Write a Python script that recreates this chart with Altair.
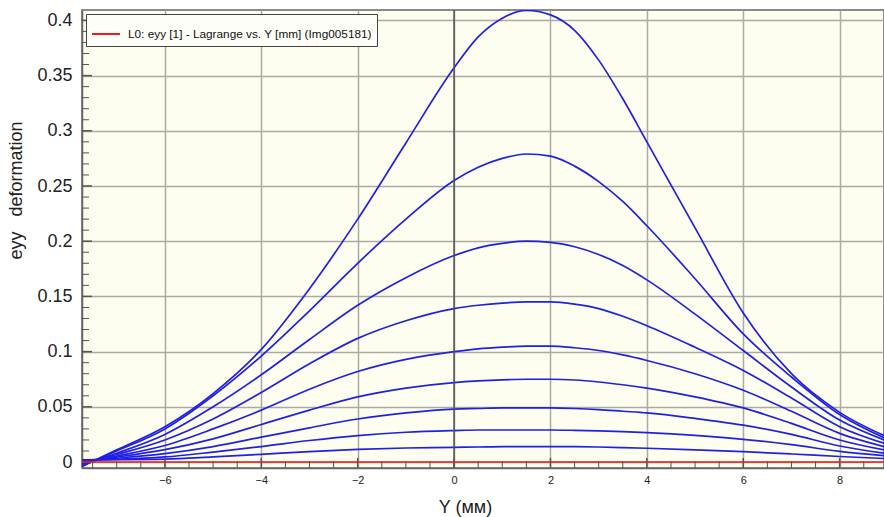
import altair as alt
import pandas as pd

# Position along the specimen (mm)
Y_MM = [-7.72, -7, -6, -5, -4, -3, -2, -1, 0, 0.5, 1, 1.5, 2, 2.5, 3, 3.5, 4, 5, 6, 7, 8, 8.92]

# eyy (Lagrange) profiles, one per loading stage
EYY_1 = [-0.004, 0.011, 0.032, 0.062, 0.102, 0.157, 0.220, 0.289, 0.357, 0.385, 0.402, 0.409, 0.405, 0.391, 0.364, 0.329, 0.290, 0.212, 0.135, 0.080, 0.045, 0.024]
EYY_2 = [-0.0035, 0.0100, 0.030, 0.060, 0.096, 0.137, 0.180, 0.220, 0.255, 0.267, 0.275, 0.279, 0.277, 0.268, 0.254, 0.236, 0.214, 0.166, 0.116, 0.077, 0.043, 0.022]
EYY_3 = [-0.0025, 0.008, 0.025, 0.050, 0.079, 0.111, 0.142, 0.167, 0.187, 0.194, 0.198, 0.200, 0.199, 0.195, 0.188, 0.178, 0.165, 0.134, 0.101, 0.068, 0.038, 0.020]
EYY_4 = [-0.0015, 0.0068, 0.020, 0.039, 0.063, 0.089, 0.112, 0.128, 0.139, 0.142, 0.144, 0.145, 0.145, 0.143, 0.139, 0.132, 0.1235, 0.104, 0.083, 0.058, 0.032, 0.017]
EYY_5 = [-0.0005, 0.0055, 0.015, 0.030, 0.047, 0.066, 0.082, 0.093, 0.100, 0.1025, 0.104, 0.105, 0.105, 0.1035, 0.101, 0.097, 0.092, 0.080, 0.065, 0.046, 0.026, 0.014]
EYY_6 = [0.0005, 0.0045, 0.0112, 0.021, 0.034, 0.047, 0.059, 0.067, 0.072, 0.0735, 0.0745, 0.075, 0.075, 0.0743, 0.0725, 0.070, 0.067, 0.059, 0.049, 0.035, 0.020, 0.011]
EYY_7 = [0.0012, 0.0035, 0.0076, 0.014, 0.0225, 0.031, 0.039, 0.0445, 0.048, 0.0485, 0.049, 0.049, 0.049, 0.0485, 0.0475, 0.046, 0.0445, 0.0395, 0.0334, 0.025, 0.0145, 0.008]
EYY_8 = [0.0018, 0.0025, 0.0046, 0.009, 0.014, 0.0195, 0.024, 0.027, 0.0285, 0.029, 0.029, 0.029, 0.029, 0.0287, 0.0282, 0.0275, 0.0266, 0.0241, 0.0206, 0.0157, 0.0097, 0.0058]
EYY_9 = [0.002, 0.0022, 0.0027, 0.0047, 0.007, 0.0095, 0.0115, 0.0127, 0.0133, 0.0136, 0.014, 0.014, 0.014, 0.0139, 0.0136, 0.0131, 0.0125, 0.0111, 0.0094, 0.0073, 0.005, 0.0032]

# Reference frame L0 (undeformed)
EYY_L0 = [0.0] * len(Y_MM)
L0_LABEL = "L0: eyy [1] - Lagrange vs. Y [mm] (Img005181)"

# Axis ticks
X_LABEL_TICKS = [-6, -4, -2, 0, 2, 4, 6, 8]
X_MINOR_TICKS = [-7.5, -7, -6.5, -5.5, -5, -4.5, -3.5, -3, -2.5, -1.5, -1, -0.5,
                 0.5, 1, 1.5, 2.5, 3, 3.5, 4.5, 5, 5.5, 6.5, 7, 7.5, 8.5]
Y_LABEL_TICKS = [0, 0.05, 0.1, 0.15, 0.2, 0.25, 0.3, 0.35, 0.4]
Y_MINOR_TICKS = [0.01, 0.02, 0.03, 0.04, 0.06, 0.07, 0.08, 0.09, 0.11, 0.12, 0.13, 0.14,
                 0.16, 0.17, 0.18, 0.19, 0.21, 0.22, 0.23, 0.24, 0.26, 0.27, 0.28, 0.29,
                 0.31, 0.32, 0.33, 0.34, 0.36, 0.37, 0.38, 0.39]

X_DOMAIN = [-7.72, 8.92]
Y_DOMAIN = [-0.0054, 0.4094]

W, H = 802, 458
FRAME = "#666666"
TICK = "#555555"
FONT = "Liberation Sans"

stages = [EYY_1, EYY_2, EYY_3, EYY_4, EYY_5, EYY_6, EYY_7, EYY_8, EYY_9]
rows = []
for i, vals in enumerate(stages, start=1):
    for x, v in zip(Y_MM, vals):
        rows.append({"y_mm": x, "eyy": v, "stage": i})
profiles = pd.DataFrame(rows)
l0 = pd.DataFrame({"y_mm": Y_MM, "eyy": EYY_L0, "series": L0_LABEL})

x_scale = alt.Scale(domain=X_DOMAIN, nice=False, zero=False)
y_scale = alt.Scale(domain=Y_DOMAIN, nice=False, zero=False)

x_axis = alt.Axis(
    values=X_LABEL_TICKS, title="Y (мм)", grid=True, gridColor="#aaaaa2", gridWidth=1.5,
    ticks=False, labelPadding=6, labelFontSize=11, labelFont=FONT, labelColor="#222",
    domainColor=FRAME, domainWidth=1.5, titleFont=FONT, titleFontSize=18,
    titleFontWeight="normal", titleColor="#222", titleX=383, titleY=30,
    titleBaseline="top", titleAnchor="middle",
)
y_axis = alt.Axis(
    values=Y_LABEL_TICKS, title="eyy\u00a0\u00a0 deformation", grid=True,
    gridColor="#aaaaa2", gridWidth=1.5, ticks=False, labelPadding=10,
    labelFontSize=18, labelFont=FONT, labelColor="#222", labelFlush=False,
    labelExpr="datum.value == 0 ? '0' : format(datum.value, '.2~f')",
    domainColor=FRAME, domainWidth=1.5, titleFont=FONT, titleFontSize=18,
    titleFontWeight="normal", titleColor="#222", titleAngle=-90, titleX=-66,
    titleY=180, titleAlign="center", titleBaseline="middle",
)


def xq(field):
    return alt.X(f"{field}:Q", scale=x_scale, axis=x_axis)


def yq(field):
    return alt.Y(f"{field}:Q", scale=y_scale, axis=y_axis)


curves = alt.Chart(profiles).mark_line(
    color="#2020e4", strokeWidth=1.7, interpolate="monotone", clip=True
).encode(x=xq("y_mm"), y=yq("eyy"), detail="stage:N")

zero_x = alt.Chart(pd.DataFrame({"y_mm": [0]})).mark_rule(
    color="#505050", strokeWidth=1.5
).encode(x=xq("y_mm"))

x_minor = alt.Chart(pd.DataFrame({"y_mm": X_MINOR_TICKS})).mark_rule(
    color=TICK, strokeWidth=1
).encode(x=xq("y_mm"), y=alt.value(H), y2=alt.value(H - 7))

x_major = alt.Chart(pd.DataFrame({"y_mm": X_LABEL_TICKS})).mark_rule(
    color=TICK, strokeWidth=1.5
).encode(x=xq("y_mm"), y=alt.value(H), y2=alt.value(H - 10))

y_minor = alt.Chart(pd.DataFrame({"eyy": Y_MINOR_TICKS})).mark_rule(
    color=TICK, strokeWidth=1
).encode(y=yq("eyy"), x=alt.value(0), x2=alt.value(7))

y_major = alt.Chart(pd.DataFrame({"eyy": Y_LABEL_TICKS})).mark_rule(
    color=TICK, strokeWidth=1.5
).encode(y=yq("eyy"), x=alt.value(0), x2=alt.value(10))

frame_l0 = alt.Chart(l0).mark_line(strokeWidth=1.6, clip=True).encode(
    x=xq("y_mm"),
    y=yq("eyy"),
    color=alt.Color(
        "series:N",
        scale=alt.Scale(range=["#f01818"]),
        legend=alt.Legend(title=None, orient="top-left", offset=4),
    ),
)

chart = alt.layer(
    curves, zero_x, x_minor, x_major, y_minor, y_major, frame_l0
).properties(
    width=W, height=H,
    autosize=alt.AutoSizeParams(type="none"),
    padding={"left": 82, "top": 10, "right": 0, "bottom": 49},
    background="white",
).configure_view(
    fill="#fdfdf0", stroke=FRAME, strokeWidth=1.5,
).configure_legend(
    fillColor="#fefef8", strokeColor="#444444", strokeWidth=1, padding=5,
    symbolType="stroke", symbolSize=784, symbolStrokeWidth=2,
    labelFont=FONT, labelFontSize=11.8, labelColor="#111", labelLimit=400,
    labelOffset=7, cornerRadius=0,
)

chart.save("out.html", embed_options={"renderer": "svg", "actions": False})
